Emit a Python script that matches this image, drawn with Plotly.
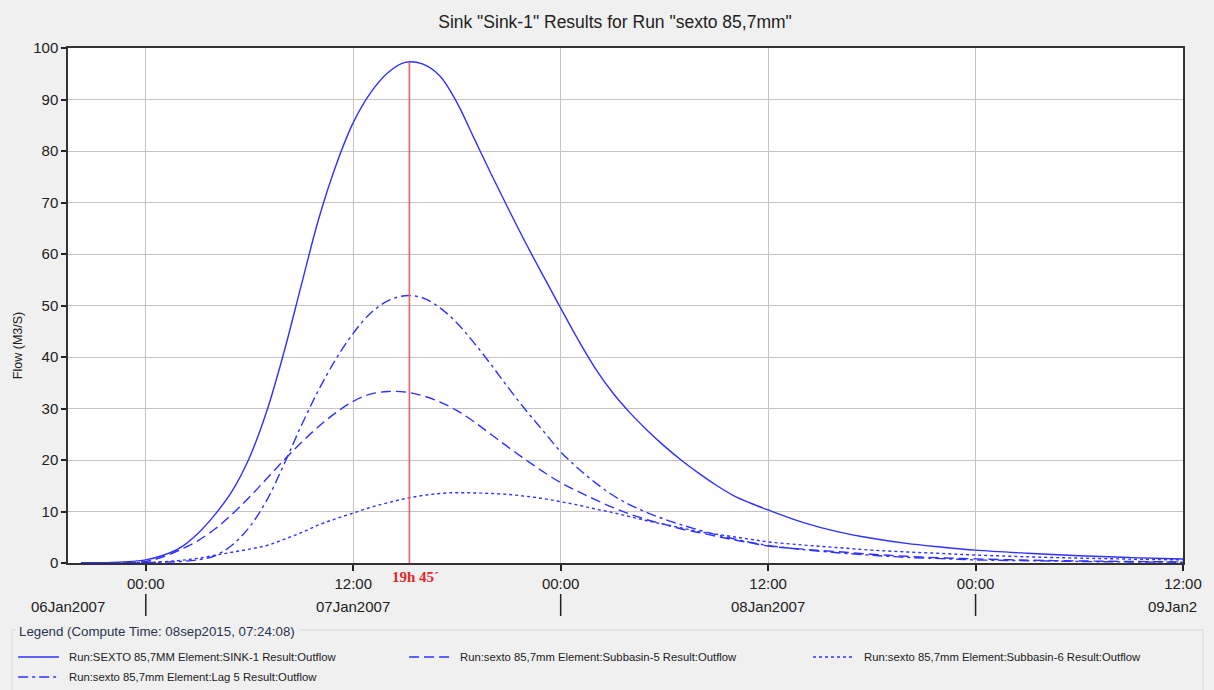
import plotly.graph_objects as go
import pandas as pd

# ---------------- data ----------------
BASE_TIME = "2007-01-07 00:00"
HOURS = [-3.75, -2] + list(range(0, 37)) + [38, 40, 42, 44, 46, 48, 51, 54, 57, 60]

SINK1_OUTFLOW = [0.05, 0.1,
                 0.6, 1.5, 3.0, 5.7, 9.4, 14.0, 20.5, 29.5, 41.0, 54.0,
                 66.8, 77.2, 85.5, 91.3, 95.2, 97.2, 96.9, 94.6, 89.4, 82.4,
                 75.4, 68.6, 62.0, 55.7, 49.5, 43.4, 37.8, 33.1, 29.2, 25.8,
                 22.7, 19.9, 17.4, 15.1, 13.1, 11.6, 10.3,
                 7.9, 6.1, 4.8, 3.8, 3.1, 2.5, 1.9, 1.4, 1.05, 0.78]
SUB5_OUTFLOW = [0.02, 0.05,
                0.3, 1.2, 2.6, 4.3, 6.6, 9.5, 12.8, 16.4, 20.0, 23.4,
                26.5, 29.2, 31.4, 32.8, 33.3, 33.2, 32.5, 31.3, 29.6, 27.4,
                24.9, 22.4, 20.0, 17.7, 15.6, 13.9, 12.3, 10.8, 9.5, 8.4,
                7.5, 6.6, 5.9, 5.2, 4.5, 3.9, 3.3,
                2.7, 2.2, 1.7, 1.3, 1.0, 0.8, 0.55, 0.4, 0.3, 0.2]
SUB6_OUTFLOW = [0.0, 0.02,
                0.05, 0.25, 0.5, 0.9, 1.5, 2.1, 2.7, 3.4, 4.6, 5.9,
                7.4, 8.6, 9.7, 10.8, 11.7, 12.5, 13.1, 13.5, 13.65, 13.6,
                13.5, 13.3, 12.95, 12.5, 11.9, 11.25, 10.5, 9.8, 9.0, 8.2,
                7.5, 6.8, 6.1, 5.6, 5.1, 4.6, 4.1,
                3.5, 3.0, 2.5, 2.15, 1.85, 1.55, 1.2, 0.95, 0.75, 0.6]
LAG5_OUTFLOW = [0.0, 0.0,
                0.1, 0.15, 0.3, 0.6, 1.4, 3.5, 7.0, 12.2, 19.2, 26.7,
                33.6, 39.6, 44.6, 48.5, 50.9, 51.9, 51.5, 49.6, 46.6, 42.7,
                38.4, 33.9, 29.6, 25.6, 21.6, 18.4, 15.6, 13.2, 11.3, 9.8,
                8.5, 7.4, 6.4, 5.5, 4.7, 4.0, 3.4,
                2.6, 2.0, 1.5, 1.1, 0.85, 0.6, 0.45, 0.3, 0.2, 0.15]

SERIES_NAMES = [
    "Run:SEXTO 85,7MM Element:SINK-1 Result:Outflow",
    "Run:sexto 85,7mm Element:Subbasin-5 Result:Outflow",
    "Run:sexto 85,7mm Element:Subbasin-6 Result:Outflow",
    "Run:sexto 85,7mm Element:Lag 5 Result:Outflow",
]

X_RANGE = ["2007-01-06 19:30", "2007-01-09 12:00"]
TICK_TIMES = ["2007-01-07 00:00", "2007-01-07 12:00", "2007-01-08 00:00",
              "2007-01-08 12:00", "2007-01-09 00:00", "2007-01-09 12:00"]
TICK_TEXT = ["00:00", "12:00", "00:00", "12:00", "00:00", "12:00"]
DAY_BOUNDARIES = ["2007-01-07 00:00", "2007-01-08 00:00", "2007-01-09 00:00"]
DAY_LABELS = ["06Jan2007", "07Jan2007", "08Jan2007", "09Jan2"]
DAY_LABEL_TIMES = ["2007-01-06 19:30", "2007-01-07 12:00", "2007-01-08 12:00", "2007-01-09 09:50"]

PEAK_TIME = "2007-01-07 15:15"
PEAK_VALUE = 97.3
PEAK_LABEL = "19h 45\u00b4"

TITLE = 'Sink "Sink-1" Results for Run "sexto 85,7mm"'
Y_TITLE = "Flow (M3/S)"
LEGEND_TITLE = "Legend (Compute Time: 08sep2015, 07:24:08)"

# ---------------- figure ----------------
W, H = 1214, 690
L, R, T, B = 68, 1186, 48, 563
FONT = "Liberation Sans, Arial, sans-serif"
BLUE = "#3030ff"
DASHES = ["solid", "10px,5px", "3px,3px", "10px,4px,3px,4px"]
VALUES = [SINK1_OUTFLOW, SUB5_OUTFLOW, SUB6_OUTFLOW, LAG5_OUTFLOW]

times = pd.Timestamp(BASE_TIME) + pd.to_timedelta(HOURS, unit="h")


def px(x):
    return (x - L) / (R - L)


def py(y):
    return (B - y) / (B - T)


fig = go.Figure()
for name, vals, dash in zip(SERIES_NAMES, VALUES, DASHES):
    fig.add_trace(go.Scatter(
        x=times, y=vals, mode="lines", name=name, showlegend=False,
        line=dict(color=BLUE, width=1.4, dash=dash, shape="spline", smoothing=1.0),
    ))

shapes = []
# red peak marker
shapes.append(dict(type="line", xref="x", yref="y", x0=PEAK_TIME, x1=PEAK_TIME,
                   y0=0, y1=PEAK_VALUE, line=dict(color="#ef5f66", width=1.6), layer="above"))
# day separators in the date row
for d in DAY_BOUNDARIES:
    shapes.append(dict(type="line", xref="x", yref="paper", x0=d, x1=d,
                       y0=py(594), y1=py(616), line=dict(color="#222222", width=1.5)))
# legend titled border
bc = "#dce2e8"
shapes += [
    dict(type="line", xref="paper", yref="paper", x0=px(12), x1=px(16), y0=py(630), y1=py(630), line=dict(color=bc, width=1.5)),
    dict(type="line", xref="paper", yref="paper", x0=px(300), x1=px(1206), y0=py(630), y1=py(630), line=dict(color=bc, width=1.5)),
    dict(type="line", xref="paper", yref="paper", x0=px(12), x1=px(12), y0=py(630), y1=py(700), line=dict(color=bc, width=1.5)),
    dict(type="line", xref="paper", yref="paper", x0=px(1206), x1=px(1206), y0=py(630), y1=py(700), line=dict(color=bc, width=1.5)),
]

annotations = []
# legend entries (manual layout)
legend_slots = [(18, 657), (410, 657), (815, 657), (18, 677)]
for (lx, ly), name, dash in zip(legend_slots, SERIES_NAMES, DASHES):
    shapes.append(dict(type="line", xref="paper", yref="paper", x0=px(lx), x1=px(lx + 41),
                       y0=py(ly), y1=py(ly), line=dict(color=BLUE, width=1.3, dash=dash)))
    annotations.append(dict(xref="paper", yref="paper", x=px(lx + 49), y=py(ly), text=name,
                            showarrow=False, xanchor="left", yanchor="middle",
                            font=dict(family=FONT, size=11.3, color="#222222")))
annotations.append(dict(xref="paper", yref="paper", x=px(17), y=py(631), text=LEGEND_TITLE,
                        showarrow=False, xanchor="left", yanchor="middle",
                        font=dict(family=FONT, size=13.3, color="#2a3350")))
# day labels
for i, (lab, t) in enumerate(zip(DAY_LABELS, DAY_LABEL_TIMES)):
    annotations.append(dict(xref="x", yref="paper", x=t, y=py(606), text=lab, showarrow=False,
                            xanchor="left" if i == len(DAY_LABELS) - 1 else "center",
                            yanchor="middle", font=dict(family=FONT, size=15, color="#222222")))
# peak label
annotations.append(dict(xref="x", yref="paper", x=PEAK_TIME, y=py(577), text="<b>" + PEAK_LABEL + "</b>",
                        showarrow=False, xanchor="left", xshift=-19, yanchor="middle",
                        font=dict(family="Liberation Serif, Times New Roman, serif", size=15, color="#e02828")))
# y-axis title
annotations.append(dict(xref="paper", yref="paper", x=px(18), y=py(346), text=Y_TITLE, textangle=-90,
                        showarrow=False, xanchor="center", yanchor="middle",
                        font=dict(family=FONT, size=12.5, color="#222222")))

fig.update_layout(
    width=W, height=H,
    margin=dict(l=L, r=W - R, t=T, b=H - B, pad=0),
    paper_bgcolor="#f0f0f0", plot_bgcolor="#ffffff",
    title=dict(text=TITLE, x=615 / W, y=1 - 22 / H, xanchor="center", yanchor="middle",
               font=dict(family=FONT, size=17.5, color="#222222")),
    shapes=shapes, annotations=annotations,
    showlegend=False,
)
fig.update_xaxes(
    type="date", range=X_RANGE, tickmode="array", tickvals=TICK_TIMES, ticktext=TICK_TEXT,
    showgrid=True, gridcolor="#c4c4c4", gridwidth=1,
    showline=True, linecolor="#333333", linewidth=1.5, mirror=True,
    ticks="outside", ticklen=6, tickcolor="#222222", tickwidth=1.5,
    tickfont=dict(family=FONT, size=15, color="#222222"), zeroline=False,
)
fig.update_yaxes(
    range=[0, 100], tickmode="linear", tick0=0, dtick=10,
    showgrid=True, gridcolor="#c4c4c4", gridwidth=1,
    showline=True, linecolor="#333333", linewidth=1.5, mirror=True,
    ticks="outside", ticklen=5, tickcolor="#222222", tickwidth=1.5,
    tickfont=dict(family=FONT, size=15, color="#222222"), zeroline=False,
)

fig.write_html("out.html")
